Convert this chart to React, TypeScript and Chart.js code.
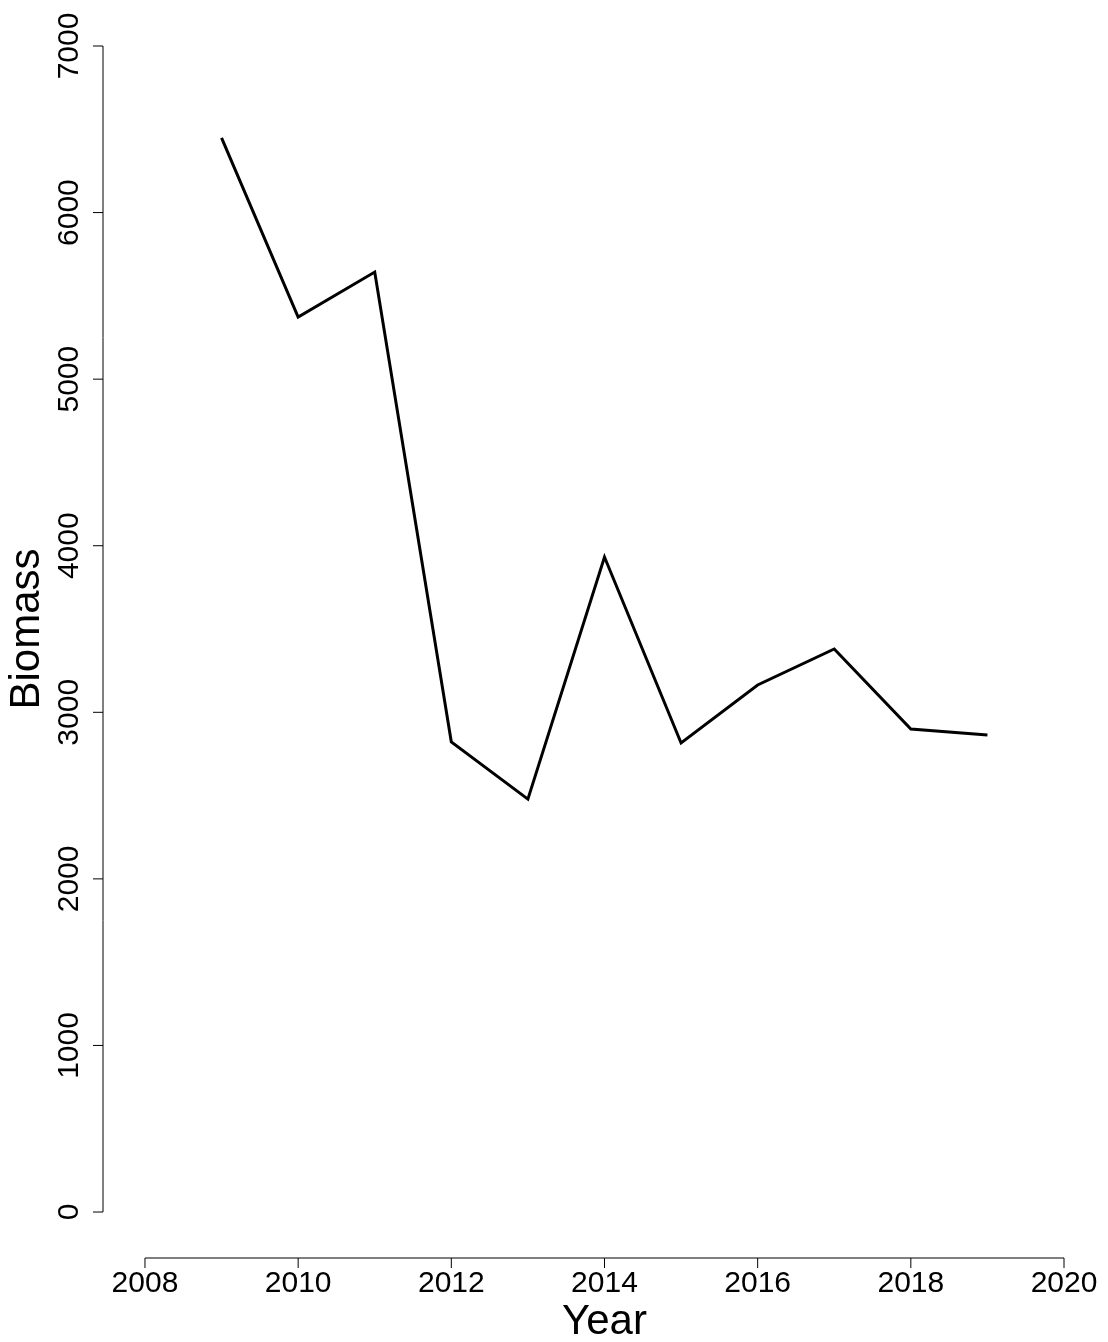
import { useEffect, useRef } from "react";
import Chart from "chart.js/auto";

const years = [2009, 2010, 2011, 2012, 2013, 2014, 2015, 2016, 2017, 2018, 2019];
const biomass = [6448, 5373, 5643, 2822, 2479, 3932, 2816, 3164, 3380, 2900, 2864];
const xTicks = [2008, 2010, 2012, 2014, 2016, 2018, 2020];
const yTicks = [0, 1000, 2000, 3000, 4000, 5000, 6000, 7000];

const FONT = '"Liberation Sans", Arial, sans-serif';

const rAxes = {
  id: "rAxes",
  afterDraw(chart: any) {
    const { ctx, scales } = chart;
    const x = scales.x, y = scales.y;
    ctx.save();
    ctx.strokeStyle = "#000";
    ctx.fillStyle = "#000";
    ctx.lineWidth = 1;
    // y axis
    const ax = 103;
    ctx.beginPath();
    ctx.moveTo(ax, y.getPixelForValue(yTicks[0]));
    ctx.lineTo(ax, y.getPixelForValue(yTicks[yTicks.length - 1]));
    yTicks.forEach((t) => {
      const py = y.getPixelForValue(t);
      ctx.moveTo(ax, py);
      ctx.lineTo(ax - 10, py);
    });
    ctx.stroke();
    ctx.font = `30px ${FONT}`;
    ctx.textAlign = "center";
    ctx.textBaseline = "middle";
    yTicks.forEach((t) => {
      ctx.save();
      ctx.translate(70, y.getPixelForValue(t));
      ctx.rotate(-Math.PI / 2);
      ctx.fillText(String(t), 0, 0);
      ctx.restore();
    });
    ctx.save();
    ctx.font = `42px ${FONT}`;
    ctx.translate(27, (y.getPixelForValue(0) + y.getPixelForValue(7000)) / 2);
    ctx.rotate(-Math.PI / 2);
    ctx.fillText("Biomass", 0, 0);
    ctx.restore();
    // x axis
    const ay = 1258;
    ctx.beginPath();
    ctx.moveTo(x.getPixelForValue(xTicks[0]), ay);
    ctx.lineTo(x.getPixelForValue(xTicks[xTicks.length - 1]), ay);
    xTicks.forEach((t) => {
      const px = x.getPixelForValue(t);
      ctx.moveTo(px, ay);
      ctx.lineTo(px, ay + 10);
    });
    ctx.stroke();
    ctx.font = `30px ${FONT}`;
    xTicks.forEach((t) => ctx.fillText(String(t), x.getPixelForValue(t), 1284));
    ctx.font = `42px ${FONT}`;
    ctx.fillText("Year", (x.getPixelForValue(2008) + x.getPixelForValue(2020)) / 2, 1322);
    ctx.restore();
  },
};

export default function App() {
  const ref = useRef<HTMLCanvasElement>(null);

  useEffect(() => {
    document.body.style.margin = "0";
    if (!ref.current) return;
    const chart = new Chart(ref.current, {
      type: "line",
      data: {
        datasets: [
          {
            data: years.map((yr, i) => ({ x: yr, y: biomass[i] })),
            borderColor: "#000",
            borderWidth: 3,
            pointRadius: 0,
            tension: 0,
          },
        ],
      },
      options: {
        animation: false,
        responsive: false,
        layout: { padding: { left: 103, right: 8, top: 46, bottom: 84 } },
        plugins: { legend: { display: false }, tooltip: { enabled: false } },
        scales: {
          x: { type: "linear", display: false, min: 2007.452, max: 2020.47 },
          y: { type: "linear", display: false, min: -276, max: 7000 },
        },
      },
      plugins: [rAxes],
    });
    return () => chart.destroy();
  }, []);

  return <canvas ref={ref} width={1108} height={1342} style={{ display: "block" }} />;
}
